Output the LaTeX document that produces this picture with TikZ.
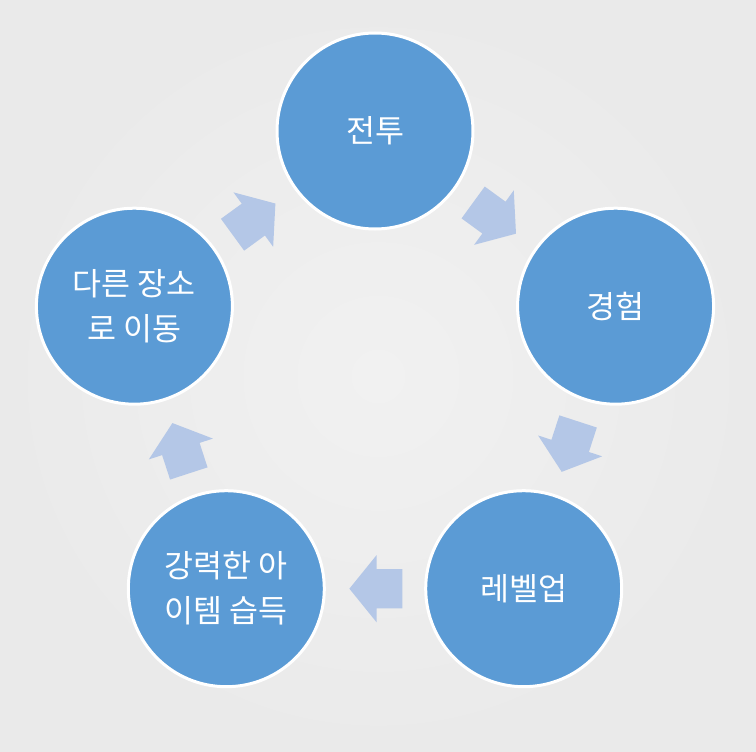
\documentclass[tikz,border=0pt]{standalone}
\usepackage{fontspec}
\setmainfont{Noto Sans CJK KR}
\usepackage{tikz}
\usetikzlibrary{shapes.arrows}
\definecolor{cblue}{HTML}{5B9BD5}
\definecolor{carrow}{HTML}{B4C7E7}
\definecolor{cbgin}{HTML}{F1F1F1}
\definecolor{cbgout}{HTML}{EAEAEA}
\tikzset{
  stage/.style={circle, draw=white, line width=3pt, fill=cblue, text=white,
                minimum size=196pt, inner sep=0pt, align=center,
                font=\fontsize{31.5}{45}\selectfont},
  blockarrow/.style={single arrow, fill=carrow, draw=none, inner xsep=0pt,
                     inner ysep=19.5pt, minimum height=53pt,
                     single arrow head extend=14pt, single arrow tip angle=102,
                     sloped, allow upside down, pos=0.41}
}

\begin{document}
\begin{tikzpicture}[x=1pt, y=-1pt]
  \useasboundingbox (0,0) rectangle (756,752);
  \shade[inner color=cbgin, outer color=cbgout] (0,0) rectangle (756,752);

  \node[stage] (fight) at (375,131) {전투};
  \node[stage] (exp) at (615.6,306.2) {경험};
  \node[stage] (lvl) at (523.7,588.7) {레벨업};
  \node[stage] (item) at (226.3,588.7) {강력한 아\\이템 습득};
  \node[stage] (move) at (134.4,306.2) {다른 장소\\로 이동};

  \path (fight) -- node[blockarrow] {} (exp);
  \path (exp) -- node[blockarrow] {} (lvl);
  \path (lvl) -- node[blockarrow] {} (item);
  \path (item) -- node[blockarrow] {} (move);
  \path (move) -- node[blockarrow] {} (fight);
\end{tikzpicture}
\end{document}
